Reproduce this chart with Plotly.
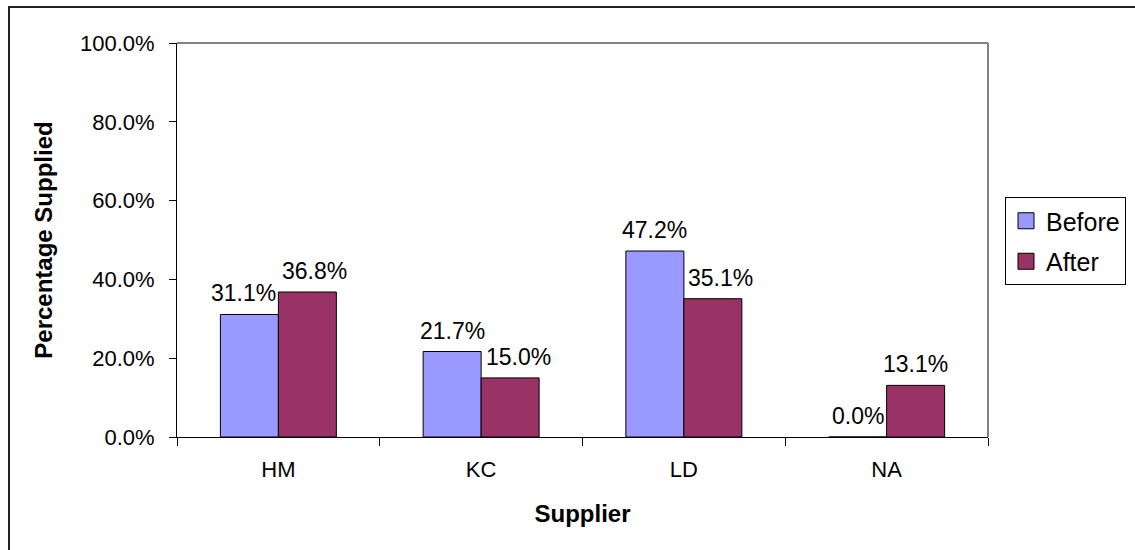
import plotly.graph_objects as go

# Share of supply per supplier, before and after the change
suppliers = ["HM", "KC", "LD", "NA"]
before = [0.311, 0.217, 0.472, 0.0]
after = [0.368, 0.150, 0.351, 0.131]

FONT = "Arial, 'Liberation Sans', sans-serif"
BEFORE_COLOR = "#9999FF"
AFTER_COLOR = "#993366"

# plot-area geometry in pixels (used to place frame shapes in paper coordinates)
L, T, R, B = 177, 43, 988, 437
W_PX, H_PX = 1135, 550
PW, PH = R - L, B - T
BAR_GAP = 0.428
# half of one bar's width in pixels, so value labels sit over their own bar
HALF_BAR = PW / len(suppliers) * (1 - BAR_GAP) / 4

# sideways nudges (px) that keep value labels clear of each other and of taller bars
LABEL_NUDGE = {("Before", "HM"): -6, ("After", "HM"): 7,
               ("After", "KC"): 8, ("After", "LD"): 8}


def px_x(x):
    return (x - L) / PW


def px_y(y):
    return (B - y) / PH


fig = go.Figure()
for name, values, color in (("Before", before, BEFORE_COLOR), ("After", after, AFTER_COLOR)):
    fig.add_trace(go.Bar(
        name=name, x=suppliers, y=values, showlegend=False,
        marker=dict(color=color, line=dict(color="#000000", width=1)),
    ))
# legend entries with larger square swatches
for name, color in (("Before", BEFORE_COLOR), ("After", AFTER_COLOR)):
    fig.add_trace(go.Scatter(
        name=name, x=[None], y=[None], mode="markers", legendgroup=name,
        marker=dict(symbol="square", size=16, color=color, line=dict(color="#000000", width=1)),
    ))

# value labels above each bar
annotations = []
for name, values, shift in (("Before", before, -HALF_BAR), ("After", after, HALF_BAR)):
    for cat, v in zip(suppliers, values):
        annotations.append(dict(
            x=cat, y=v, xref="x", yref="y",
            xshift=shift + LABEL_NUDGE.get((name, cat), 0), yshift=6,
            text=f"{v:.1%}", showarrow=False, xanchor="center", yanchor="bottom",
            font=dict(family=FONT, size=23, color="#000000"),
        ))

shapes = [
    # outer chart frame (runs off the right and bottom edges)
    dict(type="rect", xref="paper", yref="paper",
         x0=px_x(9), x1=px_x(W_PX + 10), y0=px_y(H_PX + 10), y1=px_y(7),
         line=dict(color="#222222", width=2), fillcolor="rgba(0,0,0,0)", layer="below"),
    # grey top and right edges of the plot area
    dict(type="line", xref="paper", yref="paper", x0=0, x1=1, y0=1, y1=1,
         line=dict(color="#808080", width=2)),
    dict(type="line", xref="paper", yref="paper", x0=1, x1=1, y0=0, y1=1,
         line=dict(color="#808080", width=2)),
]

fig.update_layout(
    width=W_PX, height=H_PX,
    margin=dict(l=L, r=W_PX - R, t=T, b=H_PX - B, autoexpand=False),
    paper_bgcolor="#FFFFFF", plot_bgcolor="#FFFFFF",
    barmode="group", bargap=BAR_GAP, bargroupgap=0,
    font=dict(family=FONT, color="#000000"),
    showlegend=True,
    legend=dict(
        x=px_x(1005), y=px_y(197), xanchor="left", yanchor="top",
        bordercolor="#000000", borderwidth=1, bgcolor="#FFFFFF",
        font=dict(family=FONT, size=25, color="#000000"),
        tracegroupgap=5, itemwidth=30,
    ),
    shapes=shapes,
    annotations=annotations,
    xaxis=dict(
        showline=True, linecolor="#000000", linewidth=1,
        ticks="outside", tickson="boundaries", ticklen=8, tickcolor="#000000",
        tickfont=dict(family=FONT, size=22),
        ticklabelstandoff=13,
        showgrid=False, zeroline=False,
        title=dict(text="<b>Supplier</b>", font=dict(family=FONT, size=24), standoff=23),
    ),
    yaxis=dict(
        range=[0, 1], dtick=0.2, tickformat=".1%",
        showline=True, linecolor="#000000", linewidth=1,
        ticks="outside", ticklen=7, tickcolor="#000000",
        tickfont=dict(family=FONT, size=22),
        ticklabelstandoff=10,
        showgrid=False, zeroline=False,
        title=dict(text="<b>Percentage Supplied</b>", font=dict(family=FONT, size=24), standoff=20),
    ),
)

fig.write_html("out.html")
